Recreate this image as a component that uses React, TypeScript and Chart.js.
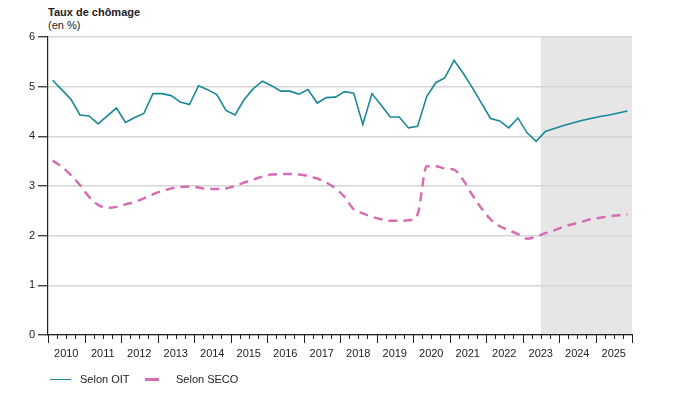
import React, { useEffect, useRef } from "react";
import { Chart, registerables } from "chart.js";

Chart.register(...registerables);

const years = ["2010","2011","2012","2013","2014","2015","2016","2017","2018","2019","2020","2021","2022","2023","2024","2025"];

// quarterly values 2010Q1 .. 2025Q4
const oit = [
  5.13, 4.94, 4.75, 4.43, 4.41, 4.25, 4.41, 4.57, 4.28, 4.38, 4.46, 4.86,
  4.86, 4.82, 4.69, 4.64, 5.02, 4.94, 4.84, 4.52, 4.43, 4.74, 4.96, 5.11,
  5.02, 4.91, 4.91, 4.85, 4.94, 4.67, 4.78, 4.79, 4.90, 4.87, 4.24, 4.86,
  4.63, 4.39, 4.39, 4.17, 4.20, 4.80, 5.08, 5.18, 5.53, 5.27, 4.98, 4.67,
  4.36, 4.31, 4.17, 4.37, 4.07, 3.90, 4.10, 4.16, 4.22, 4.27, 4.32, 4.36,
  4.40, 4.43, 4.47, 4.51,
];

const seco = [
  3.51, 3.39, 3.22, 3.02, 2.78, 2.62, 2.56, 2.58, 2.63, 2.68, 2.75, 2.83,
  2.90, 2.95, 2.98, 2.99, 2.97, 2.94, 2.94, 2.95, 3.00, 3.07, 3.13, 3.19,
  3.23, 3.24, 3.24, 3.23, 3.20, 3.15, 3.07, 2.95, 2.78, 2.53, 2.45, 2.38,
  2.33, 2.30, 2.30, 2.31, 2.43, 3.40, 3.40, 3.35, 3.33, 3.12, 2.82, 2.55,
  2.33, 2.19, 2.11, 2.03, 1.94, 1.98, 2.05, 2.11, 2.18, 2.23, 2.28, 2.33,
  2.36, 2.39, 2.41, 2.43,
];

const forecastStart = 54; // quarter index where the forecast area begins (mid-2023)
const yTicks = [0, 1, 2, 3, 4, 5, 6];

const OIT_COLOR = "#1a8799";
const SECO_COLOR = "#d56eb2";
const FONT = "'Liberation Sans', Arial, sans-serif";

export default function App() {
  const ref = useRef<HTMLCanvasElement | null>(null);

  useEffect(() => {
    if (!ref.current) return;
    const nQ = years.length * 4;

    const shading = {
      id: "shading",
      beforeDraw(chart: any) {
        const { ctx, chartArea, scales } = chart;
        const x0 = scales.x.getPixelForValue(forecastStart);
        const x1 = scales.x.getPixelForValue(nQ);
        ctx.save();
        ctx.fillStyle = "#e6e6e6";
        ctx.fillRect(x0, chartArea.top, x1 - x0, chartArea.bottom - chartArea.top);
        ctx.restore();
      },
      afterDraw(chart: any) {
        const { ctx, scales } = chart;
        const xs = scales.x;
        const yb = chart.chartArea.bottom;
        ctx.save();
        ctx.strokeStyle = "#222";
        ctx.lineWidth = 1;
        for (let q = 0; q <= nQ; q++) {
          const px = Math.round(xs.getPixelForValue(q)) + 0.5;
          const len = q % 4 === 0 ? 8 : 4;
          ctx.beginPath();
          ctx.moveTo(px, yb);
          ctx.lineTo(px, yb + len);
          ctx.stroke();
        }
        ctx.restore();
      },
    };

    const chart = new Chart(ref.current, {
      type: "line",
      data: {
        datasets: [
          {
            label: "Selon OIT",
            data: oit.map((v, i) => ({ x: i + 0.5, y: v })),
            borderColor: OIT_COLOR,
            borderWidth: 1.6,
            pointRadius: 0,
            tension: 0,
          },
          {
            label: "Selon SECO",
            data: seco.map((v, i) => ({ x: i + 0.5, y: v })),
            borderColor: SECO_COLOR,
            borderWidth: 2.5,
            borderDash: [9, 6],
            pointRadius: 0,
            cubicInterpolationMode: "monotone",
          },
        ],
      },
      options: {
        animation: false,
        responsive: true,
        maintainAspectRatio: false,
        layout: { padding: { left: 0, right: 66, top: 37, bottom: 0 } },
        plugins: {
          legend: { display: false },
          tooltip: { enabled: false },
        },
        scales: {
          x: {
            type: "linear",
            min: 0,
            max: nQ,
            afterBuildTicks: (scale: any) => {
              scale.ticks = years.map((_, k) => ({ value: k * 4 + 2 }));
            },
            afterFit: (scale: any) => {
              scale.height = 75;
            },
            ticks: {
              autoSkip: false,
              maxRotation: 0,
              padding: 12,
              color: "#222",
              font: { family: FONT, size: 11 },
              callback: (v: any) => years[Math.round((Number(v) - 2) / 4)],
            },
            grid: { display: false, drawTicks: false },
            border: { display: true, color: "#222", width: 1.2 },
          },
          y: {
            min: 0,
            max: 6,
            afterBuildTicks: (scale: any) => {
              scale.ticks = yTicks.map((v) => ({ value: v }));
            },
            afterFit: (scale: any) => {
              scale.width = 48;
            },
            ticks: {
              padding: 3,
              color: "#222",
              font: { family: FONT, size: 11 },
            },
            grid: {
              color: "#d6d6d6",
              lineWidth: 1.5,
              tickColor: "#222",
              tickLength: 10,
              tickWidth: 1.2,
            },
            border: { display: true, color: "#222", width: 1.2 },
          },
        },
      },
      plugins: [shading],
    } as any);

    return () => chart.destroy();
  }, []);

  return (
    <div style={{ position: "fixed", left: 0, top: 0, width: 698, height: 410, background: "#fff", fontFamily: FONT, color: "#222" }}>
      <div style={{ position: "absolute", left: 48, top: 6, fontSize: 11, fontWeight: "bold", lineHeight: "13px" }}>Taux de chômage</div>
      <div style={{ position: "absolute", left: 48, top: 19, fontSize: 11, lineHeight: "13px" }}>(en %)</div>
      <canvas ref={ref} style={{ position: "absolute", left: 0, top: 0 }} />
      <div style={{ position: "absolute", left: 50, top: 379, width: 21, height: 0, borderTop: `1.6px solid ${OIT_COLOR}` }} />
      <div style={{ position: "absolute", left: 80, top: 373, fontSize: 11, lineHeight: "13px" }}>Selon OIT</div>
      <div style={{ position: "absolute", left: 145, top: 378, width: 14, height: 3, background: SECO_COLOR }} />
      <div style={{ position: "absolute", left: 176, top: 373, fontSize: 11, lineHeight: "13px" }}>Selon SECO</div>
    </div>
  );
}
